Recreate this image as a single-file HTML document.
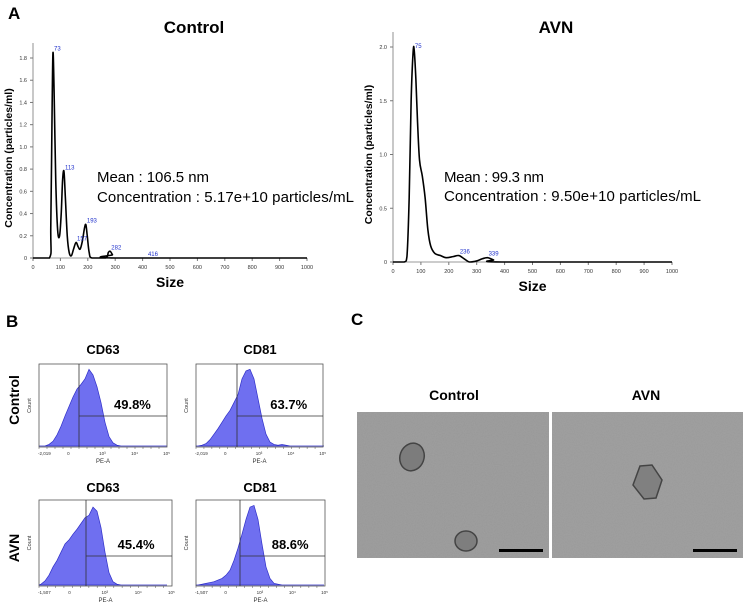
<!DOCTYPE html>
<html><head><meta charset="utf-8"><style>
body{margin:0;background:#fff;}
svg{display:block;font-family:"Liberation Sans",Arial,sans-serif;}
</style></head><body>
<svg id="fig" width="744" height="608" viewBox="0 0 744 608">
<defs>
<filter id="noise" x="0" y="0" width="100%" height="100%"><feTurbulence type="fractalNoise" baseFrequency="0.9" numOctaves="2" seed="3"/><feColorMatrix type="matrix" values="0 0 0 0 0.5  0 0 0 0 0.5  0 0 0 0 0.5  0 0 0 0.25 0"/></filter>
</defs>
<text x="8" y="19" font-size="17" font-weight="bold">A</text>
<text x="194" y="33" font-size="17" font-weight="bold" text-anchor="middle">Control</text>
<text x="556" y="33" font-size="17" font-weight="bold" text-anchor="middle">AVN</text>
<g id="ntaL"></g>
<g id="ntaR"></g>
<text x="97" y="182" font-size="15" textLength="112">Mean : 106.5 nm</text>
<text x="97" y="202" font-size="15" textLength="257">Concentration : 5.17e+10 particles/mL</text>
<text x="444" y="182" font-size="15" textLength="100">Mean : 99.3 nm</text>
<text x="444" y="201" font-size="15" textLength="257">Concentration : 9.50e+10 particles/mL</text>

<text x="6" y="327" font-size="17" font-weight="bold">B</text>
<text x="103" y="354" font-size="13" font-weight="bold" text-anchor="middle">CD63</text>
<text x="260" y="354" font-size="13" font-weight="bold" text-anchor="middle">CD81</text>
<text x="103" y="492" font-size="13" font-weight="bold" text-anchor="middle">CD63</text>
<text x="260" y="492" font-size="13" font-weight="bold" text-anchor="middle">CD81</text>
<text transform="translate(19,400) rotate(-90)" font-size="14" font-weight="bold" text-anchor="middle">Control</text>
<text transform="translate(19,548) rotate(-90)" font-size="14" font-weight="bold" text-anchor="middle">AVN</text>
<g id="flow"></g>

<text x="351" y="325" font-size="17" font-weight="bold">C</text>
<text x="454" y="400" font-size="14" font-weight="bold" text-anchor="middle">Control</text>
<text x="646" y="400" font-size="14" font-weight="bold" text-anchor="middle">AVN</text>
<g>
<rect x="357" y="412" width="192" height="146" fill="#979797"/>
<rect x="357" y="412" width="192" height="146" filter="url(#noise)"/>
<ellipse cx="412" cy="457" rx="12" ry="14" transform="rotate(20 412 457)" fill="#7c7c7c" stroke="#444" stroke-width="1.5"/>
<ellipse cx="466" cy="541" rx="11" ry="10" fill="#7e7e7e" stroke="#444" stroke-width="1.5"/>
<rect x="499" y="549" width="44" height="3" fill="#000"/>
</g>
<g>
<rect x="552" y="412" width="191" height="146" fill="#999"/>
<rect x="552" y="412" width="191" height="146" filter="url(#noise)"/>
<polygon points="640,466 652,465 662,480 656,498 644,499 633,485" fill="#808080" stroke="#444" stroke-width="1.5"/>
<rect x="693" y="549" width="44" height="3" fill="#000"/>
</g>
</svg>
<script>
const NS="http://www.w3.org/2000/svg";
// Control NTA data
const ctrlSize=[0,60,65,70,73,77,83,90,97,103,108,113,118,125,132,140,148,157,165,172,180,188,193,198,205,215,265,275,282,290,300,1000];
const ctrlConc=[0,0,0.3,1.4,1.85,1.5,0.7,0.25,0.2,0.4,0.7,0.78,0.55,0.2,0.05,0.02,0.08,0.14,0.1,0.08,0.15,0.27,0.3,0.2,0.05,0,0,0.05,0.06,0.03,0,0];
const ctrlYTicks=[0,0.2,0.4,0.6,0.8,1.0,1.2,1.4,1.6,1.8];
const ctrlPeaks=[73,113,157,193,282,416];
const ctrlPeakVals=[1.85,0.78,0.14,0.3,0.06,0.0];
// AVN NTA data
const avnSize=[0,40,50,58,65,72,76,82,88,95,105,115,125,135,150,170,190,215,236,255,275,300,320,339,360,390,1000];
const avnConc=[0,0,0.05,0.6,1.5,1.95,1.97,1.7,1.3,0.95,0.8,0.6,0.3,0.15,0.08,0.06,0.04,0.05,0.06,0.03,0,0.01,0.03,0.04,0.02,0,0];
const avnYTicks=[0,0.5,1.0,1.5,2.0];
const avnPeaks=[75,236,339];
const avnPeakVals=[1.97,0.06,0.04];
const xTicks=[0,100,200,300,400,500,600,700,800,900,1000];

function mk(tag,attrs,parent,txt){const e=document.createElementNS(NS,tag);for(const k in attrs)e.setAttribute(k,attrs[k]);if(txt!==undefined)e.textContent=txt;parent.appendChild(e);return e;}
function smooth(P,ymax){
  let d=`M${P[0][0]},${P[0][1]}`;
  for(let i=0;i<P.length-1;i++){
    const p0=P[Math.max(0,i-1)],p1=P[i],p2=P[i+1],p3=P[Math.min(P.length-1,i+2)];
    const c1=[p1[0]+(p2[0]-p0[0])/6,Math.min(ymax,p1[1]+(p2[1]-p0[1])/6)];
    const c2=[p2[0]-(p3[0]-p1[0])/6,Math.min(ymax,p2[1]-(p3[1]-p1[1])/6)];
    d+=` C${c1[0]},${c1[1]} ${c2[0]},${c2[1]} ${p2[0]},${p2[1]}`;
  }
  return d;
}

function nta(g,x0,x1,y0,yTop,vTop,sizes,conc,yt,peaks,pvals,fmt,name){
  const sx=v=>x0+(x1-x0)*v/1000, sy=v=>y0-(y0-yTop)*v/vTop;
  mk('line',{x1:x0,y1:y0,x2:x0,y2:sy(vTop)-15,stroke:'#777','stroke-width':0.8},g);
  mk('line',{x1:x0,y1:y0,x2:x1,y2:y0,stroke:'#777','stroke-width':0.8},g);
  yt.forEach(v=>{mk('line',{x1:x0-3,y1:sy(v),x2:x0,y2:sy(v),stroke:'#777'},g);
    const t=mk('text',{x:x0-6,y:sy(v)+2,'font-size':5.5,'text-anchor':'end',fill:'#333'},g,fmt(v));
    });
  xTicks.forEach(v=>{mk('line',{x1:sx(v),y1:y0,x2:sx(v),y2:y0+3,stroke:'#777'},g);
    const t=mk('text',{x:sx(v),y:y0+11,'font-size':5.5,'text-anchor':'middle',fill:'#333'},g,String(v));
    });
  const P=sizes.map((s,i)=>[sx(s),sy(conc[i])]);
  const p=mk('path',{d:smooth(P,y0),fill:'none',stroke:'#000','stroke-width':1.6,'stroke-linejoin':'round'},g);
  
  peaks.forEach((s,i)=>{const t=mk('text',{x:sx(s)+1,y:sy(pvals[i])-2,'font-size':6,fill:'#2233cc'},g,String(s));
    });
  const xl=mk('text',{x:(x0+x1)/2,y:y0+29,'font-size':14,'font-weight':'bold','text-anchor':'middle'},g,'Size');
  
  const yl=mk('text',{transform:`translate(${x0-21},${(y0+yTop)/2}) rotate(-90)`,'font-size':10.5,'font-weight':'bold','text-anchor':'middle'},g,'Concentration (particles/ml)');
  
}
nta(document.getElementById('ntaL'),33,307,258,58,1.8,ctrlSize,ctrlConc,ctrlYTicks,ctrlPeaks,ctrlPeakVals,v=>v===0?'0':v.toFixed(1),'control');
nta(document.getElementById('ntaR'),393,672,262,47,2.0,avnSize,avnConc,avnYTicks,avnPeaks,avnPeakVals,v=>v===0?'0':v.toFixed(1),'avn');

// Flow histograms (bin heights as fraction of axis max)
const hist1=[0,0,0.02,0.06,0.14,0.25,0.38,0.5,0.62,0.72,0.78,0.85,0.97,0.9,0.75,0.55,0.3,0.12,0.04,0.01,0,0,0,0,0,0,0,0,0,0,0,0];
const hist2=[0,0.01,0.03,0.08,0.15,0.22,0.3,0.38,0.45,0.55,0.65,0.85,0.95,0.97,0.85,0.6,0.35,0.15,0.05,0.02,0.01,0.02,0.01,0,0,0,0,0,0,0,0,0];
const hist3=[0.01,0.05,0.12,0.22,0.3,0.4,0.5,0.55,0.62,0.68,0.75,0.82,0.85,0.95,0.9,0.7,0.4,0.15,0.04,0.01,0,0,0,0,0,0,0,0,0,0,0,0];
const hist4=[0,0.01,0.02,0.03,0.04,0.06,0.08,0.12,0.18,0.3,0.45,0.62,0.8,0.95,0.97,0.8,0.5,0.22,0.08,0.02,0.01,0,0,0,0,0,0,0,0,0,0,0];
const percents=['49.8%','63.7%','45.4%','88.6%'];
const negLabels=['-2,019','-2,019','-1,507','-1,507'];
const flowG=document.getElementById('flow');
const boxes=[{x:39,y:364,w:128,h:83,gx:79,gy:416,d:hist1,n:'cd63-control'},{x:196,y:364,w:127,h:83,gx:237,gy:416,d:hist2,n:'cd81-control'},
 {x:39,y:500,w:133,h:86,gx:86,gy:556,d:hist3,n:'cd63-avn'},{x:196,y:500,w:129,h:86,gx:240,gy:556,d:hist4,n:'cd81-avn'}];
boxes.forEach((b,k)=>{
  const g=mk('g',{},flowG);
  
  
  const bw=4, base=b.y+b.h-1;
  let pts=`${b.x},${base} `+b.d.map((v,i)=>`${b.x+i*bw+2},${base-v*(b.h-4)}`).join(' ')+` ${b.x+b.d.length*bw},${base}`;
  mk('polygon',{points:pts,fill:'#6f6ff0',stroke:'#3030c8','stroke-width':0.7},g);
  mk('rect',{x:b.x,y:b.y,width:b.w,height:b.h,fill:'none',stroke:'#555','stroke-width':0.8},g);
  mk('line',{x1:b.gx,y1:b.y,x2:b.gx,y2:b.y+b.h,stroke:'#333','stroke-width':0.8},g);
  mk('line',{x1:b.gx,y1:b.gy,x2:b.x+b.w,y2:b.gy,stroke:'#333','stroke-width':0.8},g);
  const pt=mk('text',{x:b.x+b.w*0.73,y:b.gy-7,'font-size':13,'font-weight':'bold','text-anchor':'middle'},g,percents[k]);
  
  mk('text',{x:b.x+(b.w)/2,y:b.y+b.h+16,'font-size':6,'text-anchor':'middle',fill:'#333'},g,'PE-A');
  mk('text',{x:b.x-1,y:b.y+b.h+8,'font-size':4.5,fill:'#333'},g,negLabels[k]);
  ['0','10³','10⁴','10⁵'].forEach((l,j)=>mk('text',{x:b.x+b.w*(0.22+j*0.25),y:b.y+b.h+8,'font-size':4.5,fill:'#333'},g,l));
  mk('text',{transform:`translate(${b.x-8},${b.y+b.h/2}) rotate(-90)`,'font-size':5.5,'text-anchor':'middle',fill:'#333'},g,'Count');
  for(let t=0;t<16;t++)mk('line',{x1:b.x+t*b.w/16,y1:b.y+b.h,x2:b.x+t*b.w/16,y2:b.y+b.h+2,stroke:'#555','stroke-width':0.5},g);
});
</script>
</body></html>
